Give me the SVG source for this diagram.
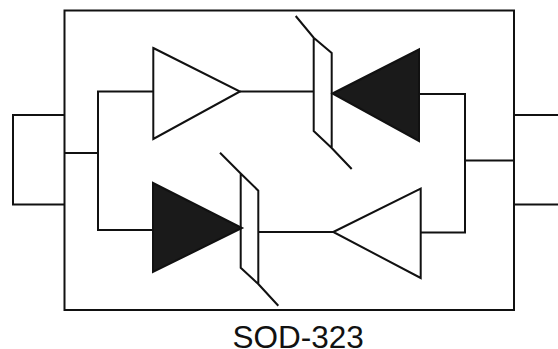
<svg xmlns="http://www.w3.org/2000/svg" width="558" height="349" viewBox="0 0 558 349">
<style>
.l{fill:none;stroke:#111;stroke-width:2}
.o{fill:#fff;stroke:#111;stroke-width:2}
.f{fill:#1a1a1a;stroke:#111;stroke-width:2;stroke-linejoin:miter}
text{font-family:"Liberation Sans",Arial,sans-serif;font-size:31.500px;fill:#111}
</style>
<rect width="558" height="349" fill="#fff"/>
<g id="package"><rect class="l" x="64.500" y="10.500" width="449.500" height="299.500"/></g>
<g id="connectors">
<path class="l" d="M64.500 115H13V204.500H64.500"/>
<path class="l" d="M64.500 153H98M153 91.500H98V230H153"/>
<path class="l" d="M240 91.500H314"/>
<path class="l" d="M419 94H465V232.500H421"/>
<path class="l" d="M465 160.500H514"/>
<path class="l" d="M514 115H558M514 204.500H558"/>
<path class="l" d="M258 232H333"/>
</g>
<g id="buffer-top"><path class="o" d="M153.300 48L240 91.500L153.300 139Z"/></g>
<g id="tvs-top"><path class="l" d="M295.700 16L313.700 37.700L331.700 53V148L351.700 169M331.700 148L313.700 131V37.700"/></g>
<g id="diode-top"><path class="f" d="M332.500 93.500L419 49.500V141Z"/></g>
<g id="diode-bottom"><path class="f" d="M153 183V272L242 228Z"/></g>
<g id="tvs-bottom"><path class="l" d="M220 152.700L240.700 173.500L258.300 190.700V284L278.300 305.700M258.300 284L240.700 267.700V173.500"/></g>
<g id="buffer-bottom"><path class="o" d="M333.300 232L420.700 188.700V278Z"/></g>
<text x="232.500" y="347.500">SOD-323</text>
</svg>
